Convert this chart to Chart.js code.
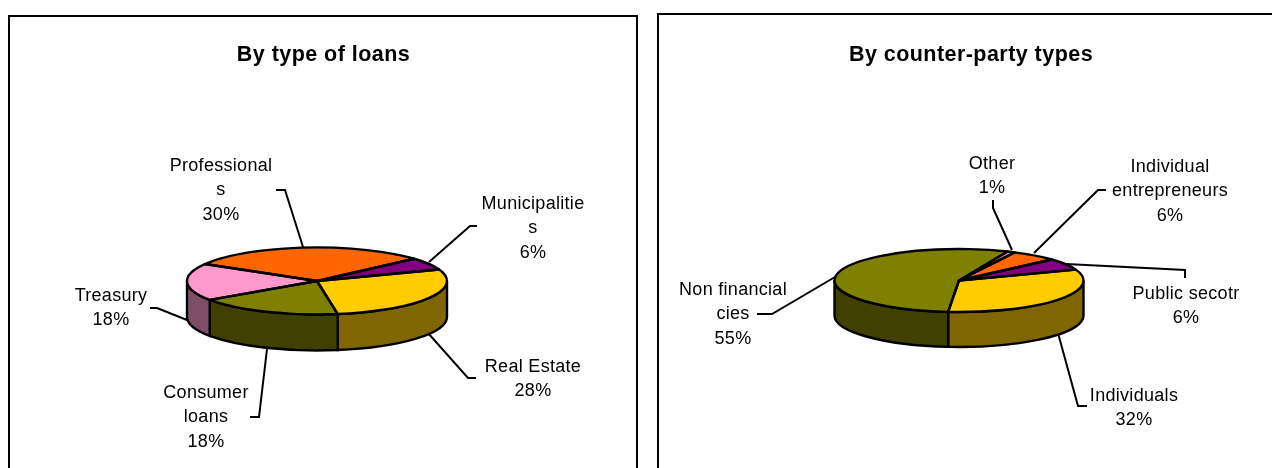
<!DOCTYPE html>
<html>
<head>
<meta charset="utf-8">
<style>
html,body{margin:0;padding:0;background:#fff;overflow:hidden;width:1272px;height:468px}
.frame{position:absolute;border:2px solid #000;box-sizing:border-box}
canvas{position:absolute;top:0}
</style>
<script src="https://cdn.jsdelivr.net/npm/chart.js@4"></script>
</head>
<body>
<div class="frame" style="left:8px;top:15px;width:630px;height:470px"></div>
<div class="frame" style="left:657px;top:13px;width:640px;height:480px"></div>
<div style="position:absolute;left:0;top:0;width:648px;height:468px"><canvas id="loans"></canvas></div>
<div style="position:absolute;left:648px;top:0;width:624px;height:468px"><canvas id="parties"></canvas></div>
<script>
// ---- data ----
const loanCategories = ['Real Estate', 'Consumer loans', 'Treasury', 'Professionals', 'Municipalities'];
const loanShares = [28, 18, 18, 30, 6];
const loanColors = ['#FFCC00', '#808000', '#FF99CC', '#FF6600', '#800080'];

const partyCategories = ['Individuals', 'Non financial cies', 'Other', 'Individual entrepreneurs', 'Public secotr'];
const partyShares = [32, 55, 1, 6, 6];
const partyColors = ['#FFCC00', '#808000', '#FF99CC', '#FF6600', '#800080'];

// ---- annotation layout (page pixels): wrapped label text, centre, leader polyline ----
const loanLabels = [
  {lines:['Real Estate','28%'], x:533, y:367, path:[[428,333],[468,378],[476,378]]},
  {lines:['Consumer','loans','18%'], x:206, y:393, path:[[267,349],[259,417],[250,417]]},
  {lines:['Treasury','18%'], x:111, y:296, path:[[187,320],[157,308],[150,308]]},
  {lines:['Professional','s','30%'], x:221, y:166, path:[[303,247],[285,190],[276,190]]},
  {lines:['Municipalitie','s','6%'], x:533, y:204, path:[[429,262],[470,226],[477,226]]}
];
const partyLabels = [
  {lines:['Individuals','32%'], x:1134, y:396, path:[[1058,333],[1078,406],[1087,406]]},
  {lines:['Non financial','cies','55%'], x:733, y:290, path:[[835,277],[772,314],[757,314]]},
  {lines:['Other','1%'], x:992, y:164, path:[[1012,250],[993,208],[993,200]]},
  {lines:['Individual','entrepreneurs','6%'], x:1170, y:167, path:[[1034,253],[1098,190],[1106,190]]},
  {lines:['Public secotr','6%'], x:1186, y:294, path:[[1066,264],[1185,270],[1185,278]]}
];

function halve(hex){
  const n = parseInt(hex.slice(1),16);
  return 'rgb(' + [(n>>16)&255,(n>>8)&255,n&255].map(v=>Math.round(v/2)).join(',') + ')';
}

// Flattens Chart.js' own pie into a tilted disc with a side wall, and adds labels.
function tiltPlugin(cfg){
  const annotate = (ctx)=>{
    ctx.save();
    ctx.translate(-cfg.originX,0);
    ctx.strokeStyle='#000'; ctx.lineWidth=2; ctx.lineJoin='miter';
    cfg.labels.forEach(l=>{
      ctx.beginPath();
      l.path.forEach((p,i)=> i?ctx.lineTo(p[0],p[1]):ctx.moveTo(p[0],p[1]));
      ctx.stroke();
    });
    ctx.fillStyle='#000'; ctx.textAlign='center'; ctx.textBaseline='middle';
    ctx.font='bold 21.5px "Liberation Sans"';
    ctx.letterSpacing=cfg.titleSpacing+'px';
    ctx.fillText(cfg.title,cfg.titleX,55);
    ctx.font='18px "Liberation Sans"';
    ctx.letterSpacing='0.3px';
    cfg.labels.forEach(l=> l.lines.forEach((t,i)=> ctx.fillText(t,l.x,l.y+i*24.3)));
    ctx.restore();
  };
  return {
    id:'tilt',
    beforeDatasetDraw(chart){
      const ctx=chart.ctx, arcs=chart.getDatasetMeta(0).data, k=cfg.ry/arcs[0].outerRadius;
      annotate(ctx);
      const TAU=Math.PI*2;
      ctx.save();
      ctx.lineWidth=2.4; ctx.strokeStyle='#000';
      arcs.forEach((a,i)=>{
        [0,TAU,-TAU].forEach(shift=>{
          const s=Math.max(a.startAngle,shift), e=Math.min(a.endAngle,shift+Math.PI);
          if(e<=s) return;
          ctx.beginPath();
          ctx.ellipse(a.x,a.y,a.outerRadius,cfg.ry,0,s,e,false);
          ctx.ellipse(a.x,a.y+cfg.depth,a.outerRadius,cfg.ry,0,e,s,true);
          ctx.closePath();
          ctx.fillStyle=halve(cfg.colors[i]);
          ctx.fill();
          ctx.stroke();
        });
      });
      ctx.restore();
      ctx.save();
      const c=arcs[0];
      ctx.translate(c.x,c.y); ctx.scale(1,k); ctx.translate(-c.x,-c.y);
    },
    afterDatasetDraw(chart){
      const ctx=chart.ctx, arcs=chart.getDatasetMeta(0).data;
      ctx.restore();
      ctx.save();
      ctx.lineWidth=2.4; ctx.strokeStyle='#000'; ctx.lineJoin='round';
      arcs.forEach(a=>{
        ctx.beginPath();
        ctx.moveTo(a.x,a.y);
        ctx.ellipse(a.x,a.y,a.outerRadius,cfg.ry,0,a.startAngle,a.endAngle,false);
        ctx.closePath();
        ctx.stroke();
      });
      ctx.restore();
    }
  };
}

function makePie(id,categories,values,colors,rotation,padding,cfg){
  new Chart(document.getElementById(id),{
    type:'pie',
    data:{labels:categories,datasets:[{data:values,backgroundColor:colors,borderWidth:0,clip:false,hoverOffset:0}]},
    options:{
      responsive:true,maintainAspectRatio:false,animation:false,
      rotation:rotation,
      layout:{padding:padding},
      plugins:{legend:{display:false},tooltip:{enabled:false},title:{display:false}}
    },
    plugins:[tiltPlugin(Object.assign({colors:colors},cfg))]
  });
}

makePie('loans',loanCategories,loanShares,loanColors,70,
  {left:187,right:201,top:151,bottom:57},
  {title:'By type of loans',titleX:323.5,titleSpacing:0.45,ry:33.5,depth:36,originX:0,labels:loanLabels});
makePie('parties',partyCategories,partyShares,partyColors,69.8,
  {left:186.5,right:188.5,top:156,bottom:63},
  {title:'By counter-party types',titleX:971,titleSpacing:0.45,ry:31.5,depth:35,originX:648,labels:partyLabels});
</script>
</body>
</html>
